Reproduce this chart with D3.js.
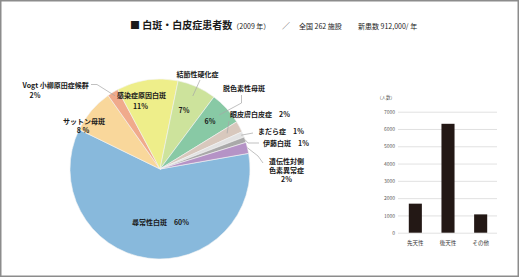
<!DOCTYPE html>
<html>
<head>
<meta charset="utf-8">
<script src="https://cdn.jsdelivr.net/npm/d3@7"></script>
<style>
  body {margin: 0; background: #fff;}
  svg text {font-family: "Noto Sans CJK JP", "Noto Sans", sans-serif;}
</style>
</head>
<body>
<svg id="chart" width="520" height="278"></svg>
<script>
// pie data (clockwise, starting with the big slice)
var pie_names = ["尋常性白斑", "サットン母斑", "Vogt 小柳原田症候群", "感染症原因白斑", "結節性硬化症",
                 "脱色素性母斑", "眼皮膚白皮症", "まだら症", "伊藤白斑", "遺伝性対側色素異常症"];
var pie_values = [60, 8, 2, 11, 7, 6, 2, 1, 1, 2];
var pie_label_lines = [
  ["尋常性白斑　60%"],
  ["サットン母斑", "8 %"],
  ["Vogt 小柳原田症候群", "2%"],
  ["感染症原因白斑", "11%"],
  ["結節性硬化症", "7%"],
  ["脱色素性母斑", "6%"],
  ["眼皮膚白皮症　2%"],
  ["まだら症　1%"],
  ["伊藤白斑　1%"],
  ["遺伝性対側", "色素異常症", "2%"]
];
var pie_colors = ["#88b9dc", "#f9d79b", "#f0aa8c", "#eeee8a", "#cde39c",
                  "#88c9a5", "#d8c8bd", "#e2e2e2", "#a9a9a9", "#b593c6"];

// bar data
var bar_categories = ["先天性", "後天性", "その他"];
var bar_values = [1680, 6300, 1060];
var bar_ticks = [0, 1000, 2000, 3000, 4000, 5000, 6000, 7000];

var svg = d3.select("#chart");

// frame
svg.append("rect")
  .attr("x", 0.75).attr("y", 0.75)
  .attr("width", 517.5).attr("height", 275.5)
  .style("fill", "#fff").style("stroke", "#8c8c8c").style("stroke-width", 1.5);

// title
var title = svg.append("text").attr("x", 130).attr("y", 29).style("fill", "#1a1a1a");
title.append("tspan").style("font-size", "10px").text("■ ");
title.append("tspan").style("font-size", "10px").style("font-weight", "bold").text("白斑・白皮症患者数");
title.append("tspan").style("font-size", "7px").text("（2009 年）");
title.append("tspan").attr("x", 282).style("font-size", "8px").style("fill", "#555").text("／");
title.append("tspan").attr("x", 299).style("font-size", "7px").text("全国 262 施設");
title.append("tspan").attr("x", 358).style("font-size", "7px").text("新患数 912,000/ 年");

// ---------- pie ----------
var cx = 160, cy = 169, radius = 90;
var start = 80 * Math.PI / 180;

var pie = d3.pie().sort(null).value(function(d){return d;})
  .startAngle(start).endAngle(start + 2 * Math.PI);
var arcs = pie(pie_values);
var arc = d3.arc().innerRadius(0).outerRadius(radius);

var pie_g = svg.append("g").attr("transform", "translate(" + cx + "," + cy + ")");
pie_g.selectAll(".slice")
  .data(arcs)
  .enter()
  .append("path")
    .classed("slice", true)
    .attr("d", arc)
    .style("fill", function(d, i){return pie_colors[i];})
    .style("stroke", "#f4f4f4")
    .style("stroke-width", 0.6);

// label placement: one [x, y] per text line (page coords), alignment,
// leader elbow points and radius where the leader ends inside the slice
var label_place = [
  {pos: [[160.5, 225]], anchor: "middle"},
  {pos: [[84, 123.5], [83, 133]], anchor: "middle"},
  {pos: [[22.5, 87.5], [29.5, 97.5]], anchor: "start", leader: [[91, 84.5], [97, 84.5]], lr: 86},
  {pos: [[141.5, 97.5], [140.5, 109]], anchor: "middle"},
  {pos: [[197.5, 76.5], [184, 112.5]], anchor: "middle", leader: [[200, 80]], lr: 80},
  {pos: [[244, 91], [210, 124]], anchor: "middle", leader: [[241.5, 95], [241.5, 103]], lr: 80},
  {pos: [[230, 116.5]], anchor: "start", leader: [[229, 121]], lr: 76},
  {pos: [[258, 133.5]], anchor: "start", leader: [[253, 133]], lr: 88},
  {pos: [[263, 146]], anchor: "start", leader: [[259, 143], [248, 143]], lr: 90},
  {pos: [[286.5, 164], [286.5, 173], [286.5, 182]], anchor: "middle", leader: [[263, 163], [258, 156]], lr: 90}
];

var label_g = svg.append("g");
label_place.forEach(function(p, i)
{
  // leader line
  if (p.leader)
  {
    let a = arcs[i];
    let mid = (a.startAngle + a.endAngle) / 2;
    let end = [cx + p.lr * Math.sin(mid), cy - p.lr * Math.cos(mid)];
    let pts = p.leader.concat([end]);
    label_g.append("path")
      .attr("d", d3.line()(pts))
      .style("fill", "none")
      .style("stroke", "#a6a6a6")
      .style("stroke-width", 0.7);
  }
  pie_label_lines[i].forEach(function(line, j)
  {
    label_g.append("text")
      .attr("x", p.pos[j][0])
      .attr("y", p.pos[j][1])
      .attr("text-anchor", p.anchor)
      .style("font-size", "7px")
      .style("font-weight", "bold")
      .style("fill", "#1a1a1a")
      .text(line);
  });
});

// ---------- bar chart ----------
var x = d3.scaleBand().domain(bar_categories).range([399, 497]).paddingInner(0.6).paddingOuter(0.3);
var y = d3.scaleLinear().domain([0, 7000]).range([232.7, 111.7]);

var bar_g = svg.append("g");

var y_axis = d3.axisLeft(y).tickValues(bar_ticks).tickFormat(d3.format("d"))
  .tickSize(-(497 - 398)).tickPadding(3);
var y_g = bar_g.append("g").attr("transform", "translate(398,0)").call(y_axis);
y_g.select(".domain").remove();
y_g.selectAll(".tick line").style("stroke", "#d9d9d9").style("stroke-width", 0.8);
y_g.selectAll(".tick text")
  .style("font-size", "5px")
  .style("fill", "#595959");

bar_g.append("text")
  .attr("x", 386).attr("y", 99)
  .attr("text-anchor", "middle")
  .style("font-size", "4.5px")
  .style("fill", "#595959")
  .text("（人数）");

bar_g.selectAll(".bar")
  .data(bar_values)
  .enter()
  .append("rect")
    .classed("bar", true)
    .attr("x", function(d, i){return x(bar_categories[i]);})
    .attr("y", function(d){return y(d);})
    .attr("width", x.bandwidth())
    .attr("height", function(d){return y(0) - y(d);})
    .style("fill", "#231815");

var x_axis = d3.axisBottom(x).tickSize(0).tickPadding(8);
var x_g = bar_g.append("g").attr("transform", "translate(0,232.7)").call(x_axis);
x_g.select(".domain").remove();
x_g.selectAll(".tick text")
  .style("font-size", "5.5px")
  .style("fill", "#333");
</script>
</body>
</html>
